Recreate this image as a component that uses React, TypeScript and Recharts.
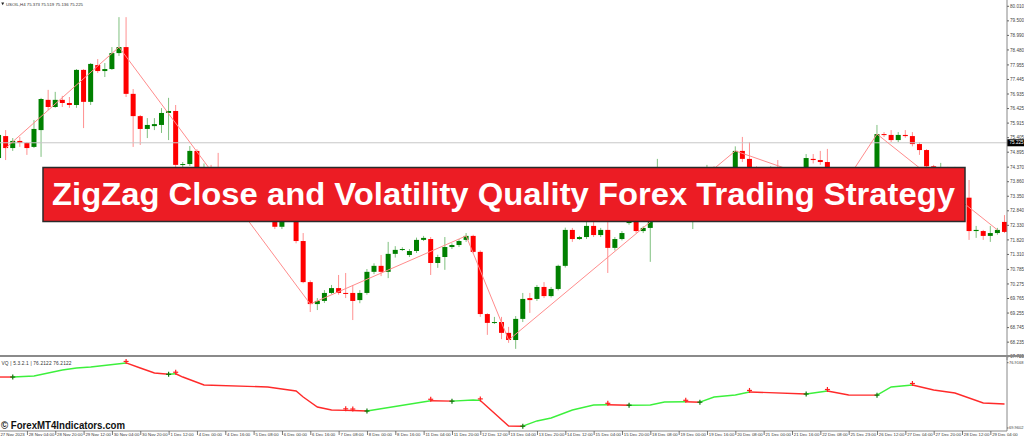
import React from 'react';
import { ComposedChart, Bar, Line, XAxis, YAxis, ReferenceLine, Scatter } from 'recharts';

// ---------- price candles (USOIL, H4) ----------
const opens = [
  74.69, 75.46, 75.04, 75.29, 75.22, 75.08, 75.67, 76.73, 76.48, 76.73,
  76.62, 76.55, 77.78, 76.66, 77.95, 77.74, 77.81, 78.37, 78.58, 76.94,
  76.16, 75.71, 75.81, 75.85, 76.27, 76.34, 74.45, 74.48, 74.94, 74.20,
  74.35, 74.00, 73.65, 73.80, 73.30, 73.00, 73.15, 72.75, 72.85, 72.60,
  72.28, 72.55, 72.70, 71.78, 70.34, 69.57, 69.68, 69.96, 70.13, 69.96,
  69.96, 69.71, 69.96, 70.70, 70.91, 70.70, 71.33, 71.47, 71.29, 71.43,
  71.82, 71.85, 71.01, 71.22, 71.57, 71.64, 71.82, 71.96, 71.40, 69.22,
  68.91, 68.94, 68.56, 68.31, 69.05, 69.78, 69.75, 70.17, 69.85, 70.10,
  70.91, 72.17, 71.85, 71.92, 72.31, 71.99, 72.17, 71.54, 71.85, 72.41,
  72.60, 72.13, 72.24, 72.66, 73.90, 73.50, 73.80, 73.40, 73.10, 73.45,
  73.75, 74.05, 73.85, 74.10, 74.25, 74.94, 74.66, 74.20, 74.05, 74.25,
  74.32, 74.05, 73.95, 74.15, 74.30, 74.66, 74.62, 74.55, 74.10, 73.85,
  73.64, 73.90, 73.80, 74.00, 73.95, 75.53, 75.50, 75.32, 75.50, 75.46,
  75.18, 74.97, 74.40, 74.05, 74.30, 74.00, 73.70, 73.30, 72.13, 72.13,
  71.96, 72.06, 72.45,
];
const highs = [
  75.67, 75.67, 75.39, 75.43, 75.25, 76.02, 76.80, 77.08, 77.01, 76.87,
  76.83, 77.81, 77.81, 78.02, 78.16, 78.02, 78.58, 79.63, 79.63, 77.11,
  76.20, 76.09, 76.09, 76.44, 76.80, 76.55, 74.55, 75.11, 75.00, 74.50,
  74.45, 74.87, 73.95, 73.90, 73.50, 73.30, 73.25, 72.95, 72.90, 72.70,
  72.70, 72.80, 72.85, 72.06, 70.40, 69.78, 70.06, 70.24, 70.59, 70.66,
  70.24, 70.06, 70.80, 71.00, 71.29, 71.75, 71.60, 71.56, 71.50, 71.90,
  71.96, 71.92, 71.30, 71.92, 71.70, 71.85, 72.06, 72.00, 71.45, 69.25,
  69.12, 69.12, 68.77, 69.15, 69.96, 69.96, 70.24, 70.34, 70.17, 70.95,
  72.25, 72.24, 71.96, 72.45, 72.45, 72.24, 72.52, 71.92, 72.13, 72.70,
  72.70, 72.30, 72.75, 74.66, 74.10, 73.95, 73.90, 73.60, 73.70, 73.95,
  74.45, 74.40, 74.25, 74.30, 75.10, 75.43, 75.25, 74.40, 74.30, 74.40,
  74.62, 74.20, 74.25, 74.35, 74.83, 74.83, 74.94, 75.01, 74.20, 74.00,
  74.00, 74.05, 74.10, 74.20, 75.85, 75.60, 75.67, 75.60, 75.67, 75.60,
  75.25, 75.00, 74.45, 74.52, 74.38, 74.38, 74.00, 73.92, 72.31, 72.17,
  72.31, 72.24, 72.69,
];
const lows = [
  74.62, 74.62, 74.94, 75.08, 74.80, 75.04, 74.73, 76.37, 76.45, 76.48,
  76.45, 76.45, 75.74, 76.55, 77.67, 77.53, 77.78, 78.27, 76.83, 75.08,
  75.15, 75.39, 75.67, 75.57, 75.32, 74.34, 74.34, 74.41, 74.10, 74.05,
  73.80, 73.55, 73.40, 73.20, 72.90, 72.85, 72.60, 72.55, 72.45, 72.20,
  72.20, 72.45, 71.70, 70.30, 69.29, 69.36, 69.61, 69.92, 69.90, 69.78,
  69.01, 69.60, 69.90, 70.62, 70.55, 70.48, 71.20, 71.43, 71.22, 71.36,
  71.78, 70.59, 70.84, 70.77, 71.50, 71.57, 71.75, 71.35, 69.12, 68.49,
  68.87, 68.34, 68.21, 68.00, 68.94, 69.26, 69.68, 69.78, 69.80, 70.05,
  70.85, 71.75, 71.82, 71.85, 71.92, 71.92, 70.66, 71.45, 71.80, 72.35,
  72.06, 72.06, 71.05, 72.55, 73.30, 73.40, 73.20, 72.95, 72.20, 73.35,
  73.65, 73.75, 73.70, 73.95, 74.15, 74.55, 74.10, 73.95, 73.95, 74.15,
  73.95, 73.85, 73.90, 74.05, 74.20, 74.50, 74.45, 73.95, 73.70, 73.50,
  73.55, 73.70, 73.70, 73.85, 73.90, 75.43, 75.25, 75.25, 75.40, 75.10,
  74.80, 74.30, 73.95, 73.95, 73.85, 73.60, 73.25, 71.82, 71.89, 71.82,
  71.75, 72.00, 72.06,
];
const closes = [
  75.50, 75.04, 75.29, 75.22, 75.04, 75.71, 76.76, 76.48, 76.73, 76.62,
  76.55, 77.78, 76.66, 77.99, 77.74, 77.81, 78.37, 78.58, 76.94, 76.16,
  75.71, 75.85, 75.88, 76.27, 76.34, 74.45, 74.48, 74.94, 74.20, 74.35,
  73.90, 73.65, 73.80, 73.30, 73.00, 73.15, 72.75, 72.85, 72.60, 72.28,
  72.55, 72.70, 71.78, 70.34, 69.57, 69.68, 69.96, 70.13, 69.96, 69.93,
  69.68, 69.96, 70.70, 70.91, 70.70, 71.33, 71.47, 71.50, 71.43, 71.82,
  71.89, 71.01, 71.22, 71.57, 71.64, 71.78, 71.96, 71.40, 69.22, 68.91,
  68.94, 68.56, 68.31, 69.05, 69.75, 69.71, 70.17, 69.85, 70.10, 70.91,
  72.17, 71.85, 71.92, 72.31, 71.99, 72.17, 71.54, 71.85, 72.06, 72.60,
  72.13, 72.24, 72.66, 73.90, 73.50, 73.80, 73.40, 73.10, 73.45, 73.75,
  74.05, 73.85, 74.10, 74.25, 74.94, 74.66, 74.20, 74.05, 74.25, 74.32,
  74.05, 73.95, 74.15, 74.30, 74.69, 74.62, 74.55, 74.10, 73.85, 73.64,
  73.90, 73.80, 74.00, 73.95, 75.53, 75.50, 75.32, 75.50, 75.46, 75.18,
  74.97, 74.40, 74.05, 74.30, 74.00, 73.70, 73.30, 72.13, 72.17, 71.96,
  72.06, 72.17, 72.10,
];

// ZigZag (close) vertices: candle indices
const zigzagIdx = [1, 17, 44, 66, 72, 104, 119, 124, 141];

const priceTicks = [
  80.010, 79.500, 78.990, 78.480, 77.955, 77.445, 76.935, 76.425, 75.915, 75.405,
  74.895, 74.370, 73.860, 73.350, 72.840, 72.330, 71.820, 71.310, 70.785, 70.275,
  69.765, 69.255, 68.745, 68.235, 67.725,
];
const currentPrice = 75.225;
const priceDomain = [67.609, 80.231];

// date labels, one every 4 bars
const dateStep = 4;
const dateLabels = [
  '27 Nov 2023', '28 Nov 04:00', '28 Nov 20:00', '29 Nov 12:00', '30 Nov 04:00', '30 Nov 20:00',
  '1 Dec 12:00', '4 Dec 00:00', '4 Dec 16:00', '5 Dec 08:00', '6 Dec 00:00', '6 Dec 16:00',
  '7 Dec 08:00', '8 Dec 00:00', '8 Dec 16:00', '11 Dec 04:00', '11 Dec 20:00', '12 Dec 12:00',
  '13 Dec 04:00', '13 Dec 20:00', '14 Dec 12:00', '15 Dec 04:00', '15 Dec 20:00', '18 Dec 08:00',
  '19 Dec 00:00', '19 Dec 16:00', '20 Dec 08:00', '21 Dec 00:00', '21 Dec 16:00', '22 Dec 08:00',
  '25 Dec 23:00', '26 Dec 12:00', '27 Dec 04:00', '27 Dec 20:00', '28 Dec 12:00', '29 Dec 04:00',
];

// ---------- Volatility Quality indicator ----------
const vqIdx = [0, 2, 5, 9, 11, 13, 18, 20, 22, 24, 25, 26, 29, 38, 40, 42, 43, 45, 47, 49, 50, 52, 61, 64, 67, 68, 72, 74, 76, 78, 81, 84, 86, 89, 92, 94, 97, 99, 101, 104, 106, 114, 117, 120, 124, 126, 129, 132, 135, 139, 142];
const vqVal = [75.39, 75.39, 75.50, 76.14, 76.35, 76.46, 76.89, 76.35, 75.82, 75.68, 75.74, 75.39, 74.54, 74.33, 74.12, 73.90, 73.26, 72.20, 71.88, 71.84, 71.82, 71.77, 72.86, 72.82, 72.94, 72.90, 70.17, 70.15, 70.71, 71.03, 71.88, 72.41, 72.43, 72.39, 72.41, 72.73, 72.75, 72.71, 73.26, 73.48, 73.80, 73.58, 73.90, 73.48, 73.46, 74.33, 74.54, 74.01, 73.69, 72.62, 72.52];
const vqBuyIdx = [2, 24, 52, 64, 74, 89, 99, 114, 124];
const vqSellIdx = [18, 25, 49, 50, 61, 68, 86, 97, 106, 117, 129];
const vqTicks = [76.9168, 69.9602];
const vqDomain = [69.64, 77.63];

// ---------- derived tables ----------
const N = opens.length;
const xDomain = [0.198, 142.35];
const candleRows = opens.map((o, i) => ({
  i,
  o,
  h: highs[i],
  l: lows[i],
  c: closes[i],
  range: [lows[i], highs[i]],
  zz: zigzagIdx.includes(i) ? closes[i] : null,
}));

const events = [
  ...vqBuyIdx.map((i) => ({ i, t: 'up' })),
  ...vqSellIdx.map((i) => ({ i, t: 'dn' })),
].sort((a, b) => a.i - b.i);
const segs: { s: number; e: number; t: string }[] = [];
{
  let cur = 'dn';
  let start = vqIdx[0];
  for (const ev of events) {
    if (ev.t !== cur) {
      segs.push({ s: start, e: ev.i, t: cur });
      start = ev.i;
      cur = ev.t;
    }
  }
  segs.push({ s: start, e: vqIdx[vqIdx.length - 1], t: cur });
}
const vqRows = Array.from({ length: N }, (_, i) => {
  const row: any = { i };
  const k = vqIdx.indexOf(i);
  if (k >= 0) {
    segs.forEach((sg, si) => {
      if (i >= sg.s && i <= sg.e) row['s' + si] = vqVal[k];
    });
  }
  return row;
});
const buyPts = vqBuyIdx.map((i) => ({ i, v: vqVal[vqIdx.indexOf(i)] }));
const sellPts = vqSellIdx.map((i) => ({ i, v: vqVal[vqIdx.indexOf(i)] }));
const dateTicks = dateLabels.map((_, k) => k * dateStep);

const FONT = 'Liberation Sans, Arial, sans-serif';

const Candle = (props: any) => {
  const { x, y, width, height, payload } = props;
  if (x == null || y == null || !payload) return null;
  const { o, h, l, c } = payload;
  const cx = x + width / 2;
  const span = h - l || 1;
  const toY = (v: number) => y + ((h - v) / span) * height;
  const up = c >= o;
  const top = toY(Math.max(o, c));
  const bot = toY(Math.min(o, c));
  const bh = Math.max(bot - top, 1);
  return (
    <g>
      <line x1={cx} x2={cx} y1={y} y2={y + height} stroke={up ? '#7fc07f' : '#ff9090'} strokeWidth={1} />
      <rect x={cx - 2.5} y={top} width={5} height={bh} fill={up ? '#008000' : '#ff0000'} />
    </g>
  );
};

const makeCross = (color: string, dy: number) => (p: any) => {
  if (p.cx == null || p.cy == null) return null;
  const cy = p.cy + dy;
  return (
    <g>
      <line x1={p.cx - 2.5} x2={p.cx + 2.5} y1={cy} y2={cy} stroke={color} strokeWidth={1.2} />
      <line x1={p.cx} x2={p.cx} y1={cy - 2.5} y2={cy + 2.5} stroke={color} strokeWidth={1.2} />
    </g>
  );
};

const DateTick = (p: any) => {
  const { x, y, payload } = p;
  const label = dateLabels[Math.round(payload.value / dateStep)];
  return (
    <g>
      <line x1={x + 0.5} x2={x + 0.5} y1={y} y2={y + 4} stroke="#555" strokeWidth={0.8} />
      <text x={x + 1.8} y={y + 4.8} fontSize={4.3} fill="#333" fontFamily={FONT}>{label}</text>
    </g>
  );
};

const PriceBox = (p: any) => {
  const vb = p.viewBox || {};
  const x = (vb.x || 0) + (vb.width || 0);
  const y = vb.y || 0;
  return (
    <g>
      <rect x={x} y={y - 3.5} width={17} height={7} fill="#000" />
      <text x={x + 2.5} y={y + 1.7} fontSize={4.6} fill="#fff" fontFamily={FONT}>{currentPrice.toFixed(3)}</text>
    </g>
  );
};

const axisTick = { fontSize: 4.6, fill: '#444', fontFamily: FONT };
const vqAxisTick = { fontSize: 4.0, fill: '#444', fontFamily: FONT };

export default function App() {
  return (
    <div style={{ position: 'absolute', left: 0, top: 0, width: 1024, height: 437, background: '#fff', overflow: 'hidden' }}>
      <div style={{ position: 'absolute', left: 0, top: 0 }}>
        <ComposedChart width={1024} height={360} data={candleRows} margin={{ top: 0, right: 0, bottom: 0, left: 0 }}>
          <XAxis type="number" dataKey="i" domain={xDomain} allowDataOverflow hide />
          <YAxis
            orientation="right"
            width={17}
            domain={priceDomain}
            allowDataOverflow
            ticks={priceTicks}
            interval={0}
            tickFormatter={(v: number) => v.toFixed(3)}
            tick={axisTick}
            tickSize={2}
            tickMargin={1}
            stroke="#888"
            tickLine={{ stroke: '#666' }}
          />
          <ReferenceLine y={currentPrice} stroke="#c8c8c8" strokeWidth={1} label={<PriceBox />} />
          <Bar dataKey="range" barSize={5} shape={<Candle />} isAnimationActive={false} />
          <Line dataKey="zz" type="linear" connectNulls dot={false} stroke="#ff8c8c" strokeWidth={1} isAnimationActive={false} />
        </ComposedChart>
      </div>
      <div style={{ position: 'absolute', left: 0, top: 354 }}>
        <ComposedChart width={1024} height={83} data={vqRows} margin={{ top: 2, right: 0, bottom: 0, left: 0 }}>
          <XAxis
            type="number"
            dataKey="i"
            domain={xDomain}
            allowDataOverflow
            ticks={dateTicks}
            interval={0}
            tick={<DateTick />}
            tickLine={false}
            tickSize={0}
            tickMargin={0}
            height={6}
            stroke="#888"
          />
          <YAxis
            orientation="right"
            width={17}
            domain={vqDomain}
            allowDataOverflow
            ticks={vqTicks}
            interval={0}
            tickFormatter={(v: number) => v.toFixed(4)}
            tick={vqAxisTick}
            tickSize={1.5}
            tickMargin={0.5}
            stroke="#888"
            tickLine={{ stroke: '#666' }}
          />
          {segs.map((sg, si) => (
            <Line
              key={'s' + si}
              dataKey={'s' + si}
              type="linear"
              connectNulls
              dot={false}
              stroke={sg.t === 'up' ? '#3cf03c' : '#ff2a2a'}
              strokeWidth={1.4}
              isAnimationActive={false}
            />
          ))}
          <Scatter data={buyPts} dataKey="v" shape={makeCross('#0b7a0b', 0)} isAnimationActive={false} />
          <Scatter data={sellPts} dataKey="v" shape={makeCross('#ff2020', -1.5)} isAnimationActive={false} />
        </ComposedChart>
      </div>
      <svg style={{ position: 'absolute', left: 0, top: 0, pointerEvents: 'none' }} width={1024} height={437}>
        <path d="M1.2 2.6 L4.2 2.6 L2.7 5.2 Z" fill="#222" />
        <text x={6} y={5.6} fontSize={4.3} fill="#333" fontFamily={FONT}>USOIL,H4  75.373 75.519 75.136 75.225</text>
        <rect x={0} y={355} width={1024} height={2} fill="#8a8a8a" />
        <text x={1.5} y={364.6} fontSize={4.8} fill="#333" fontFamily={FONT} textLength={70} lengthAdjust="spacing">VQ | 5.3.2.1 | 76.2122 76.2122</text>
        <rect x={43} y={167.5} width={922} height={54} fill="#ec1c24" stroke="#2a2a2a" strokeWidth={1.5} />
        <text x={503.5} y={205} textAnchor="middle" fontSize={31} fontWeight="bold" fill="#fff" fontFamily={FONT} textLength={903} lengthAdjust="spacingAndGlyphs">ZigZag Close and Volatility Quality Forex Trading Strategy</text>
        <text x={1} y={429} fontSize={10} fontWeight="bold" fill="#111" fontFamily={FONT} textLength={124} lengthAdjust="spacingAndGlyphs">© ForexMT4Indicators.com</text>
      </svg>
    </div>
  );
}
